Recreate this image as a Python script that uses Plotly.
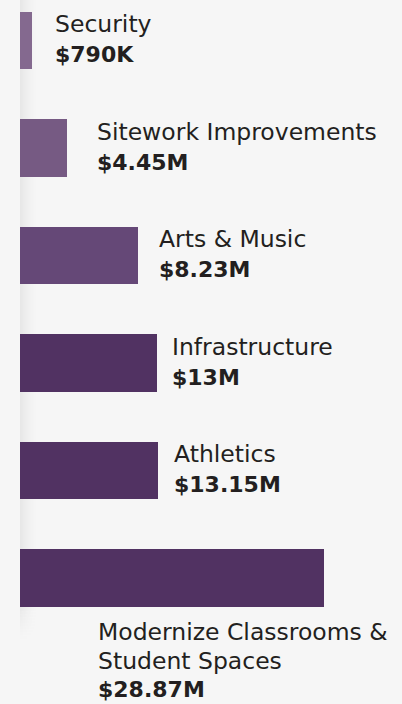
import plotly.graph_objects as go

# ---- data ----
categories = ["Security", "Sitework Improvements", "Arts & Music", "Infrastructure",
              "Athletics", "Modernize Classrooms &<br>Student Spaces"]
value_labels = ["$790K", "$4.45M", "$8.23M", "$13M", "$13.15M", "$28.87M"]
# drawn bar lengths, in $M-equivalent units
bar_lengths = [1.14, 4.45, 11.2, 13.0, 13.15, 28.87]
bar_colors = ["#84698f", "#765a83", "#654877", "#513262", "#513262", "#513262"]

# ---- layout constants ----
W, H = 402, 704
LEFT = 20
PX_PER_UNIT = 304 / 28.87
BG = "#f6f6f6"
TXT = "#231f20"
FONT = "DejaVu Sans"

y_idx = list(range(len(categories)))

fig = go.Figure(go.Bar(
    x=bar_lengths, y=y_idx, orientation="h", base=0,
    marker=dict(color=bar_colors, line=dict(width=0)),
    width=0.535, hoverinfo="skip",
))

# label placement (pixels)
label_px = [53, 94.5, 157, 170, 172, 95.5]
name_dy = -16.3
value_dy = 14.0
last_offsets = [54.0, 83.0, 111.0]

annotations = []
for i, (name, val) in enumerate(zip(categories, value_labels)):
    if i < len(categories) - 1:
        annotations.append(dict(
            x=label_px[i] / W, xref="paper", y=i, yref="y", yshift=-name_dy,
            text=name, showarrow=False, xanchor="left", yanchor="middle",
            font=dict(family=FONT, size=23.5, color=TXT)))
        annotations.append(dict(
            x=label_px[i] / W, xref="paper", y=i, yref="y", yshift=-value_dy,
            text="<b>" + val + "</b>", showarrow=False, xanchor="left", yanchor="middle",
            font=dict(family=FONT, size=22, color=TXT)))
    else:
        lines = name.split("<br>")
        for k, ln in enumerate(lines):
            annotations.append(dict(
                x=label_px[i] / W, xref="paper", y=i, yref="y", yshift=-last_offsets[k],
                text=ln, showarrow=False, xanchor="left", yanchor="middle",
                font=dict(family=FONT, size=23.5, color=TXT)))
        annotations.append(dict(
            x=label_px[i] / W, xref="paper", y=i, yref="y", yshift=-last_offsets[len(lines)],
            text="<b>" + val + "</b>", showarrow=False, xanchor="left", yanchor="middle",
            font=dict(family=FONT, size=22, color=TXT)))

# soft shadow strip to the left of the bars
shapes = []
SH_W = 18
FADE_TOP, FADE_BOT = 605, 642
for k in range(SH_W):
    a = 0.06 * (1 - k / SH_W) ** 1.6
    shapes.append(dict(type="rect", xref="paper", yref="paper", layer="below",
                       x0=(LEFT + k) / W, x1=(LEFT + k + 1) / W,
                       y0=1 - FADE_TOP / H, y1=1,
                       fillcolor=f"rgba(0,0,0,{a:.4f})", line=dict(width=0)))
    steps = 12
    for s in range(steps):
        yt = FADE_TOP + (FADE_BOT - FADE_TOP) * s / steps
        yb = FADE_TOP + (FADE_BOT - FADE_TOP) * (s + 1) / steps
        f = (1 - (s + 0.5) / steps) ** 1.3
        shapes.append(dict(type="rect", xref="paper", yref="paper", layer="below",
                           x0=(LEFT + k) / W, x1=(LEFT + k + 1) / W,
                           y0=1 - yb / H, y1=1 - yt / H,
                           fillcolor=f"rgba(0,0,0,{a * f:.4f})", line=dict(width=0)))

fig.update_layout(
    width=W, height=H, margin=dict(l=0, r=0, t=0, b=0),
    paper_bgcolor=BG, plot_bgcolor="rgba(0,0,0,0)",
    showlegend=False, bargap=0,
    xaxis=dict(range=[-LEFT / PX_PER_UNIT, (W - LEFT) / PX_PER_UNIT], visible=False, fixedrange=True),
    yaxis=dict(range=[5 + (H - 578) / 107.5, -40.5 / 107.5], visible=False, fixedrange=True),
    annotations=annotations, shapes=shapes,
)

fig.write_html("out.html", config={"displayModeBar": False},
               post_script="document.body.style.margin='0';document.body.style.background='#f6f6f6';document.body.style.overflow='hidden';")
